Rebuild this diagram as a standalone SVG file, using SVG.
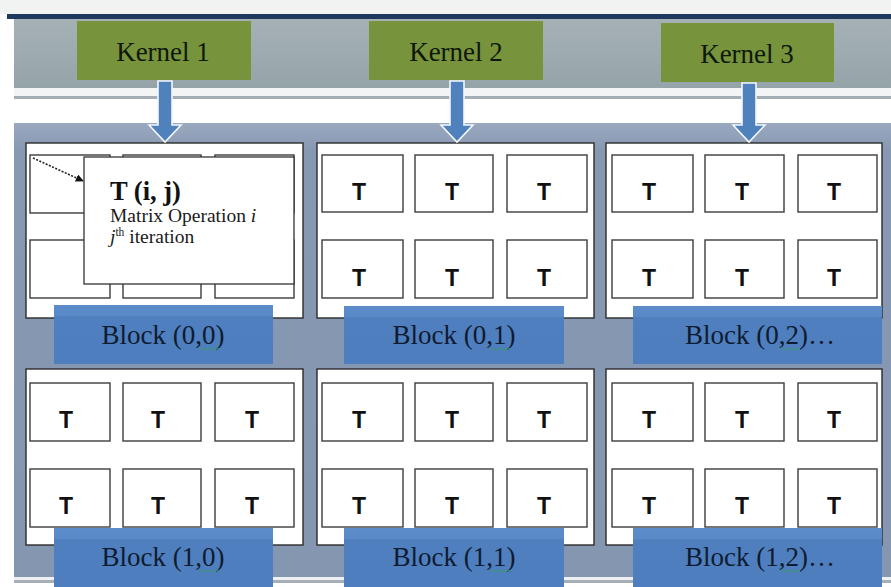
<svg xmlns="http://www.w3.org/2000/svg" width="891" height="587" viewBox="0 0 891 587">
<defs>
<linearGradient id="hdr" x1="0" y1="0" x2="0" y2="1">
<stop offset="0" stop-color="#a6b1b5"/><stop offset="1" stop-color="#95a4a9"/>
</linearGradient>
<linearGradient id="pnl" x1="0" y1="0" x2="0" y2="1">
<stop offset="0" stop-color="#9aa9bf"/><stop offset="0.06" stop-color="#8798b2"/><stop offset="1" stop-color="#8596b0"/>
</linearGradient>
<linearGradient id="lbl" x1="0" y1="0" x2="0" y2="1">
<stop offset="0" stop-color="#5d8ccb"/><stop offset="0.18" stop-color="#5a89c8"/><stop offset="0.2" stop-color="#4f7fbe"/><stop offset="1" stop-color="#4e7ebd"/>
</linearGradient>
<marker id="ah" viewBox="0 0 10 10" refX="9" refY="5" markerWidth="8" markerHeight="8" orient="auto" markerUnits="userSpaceOnUse">
<path d="M0,0 L10,5 L0,10 z" fill="#111"/>
</marker>
<style>
.blk{fill:#fff;stroke:#2b2b2b;stroke-width:1.4}
.cell{fill:#fff;stroke:#3c3c3c;stroke-width:1.4}
.t{font-family:"Liberation Sans",Arial,sans-serif;font-weight:bold;font-size:23px;text-anchor:middle;fill:#111}
.lb{fill:url(#lbl)}
.lt{font-family:"Liberation Serif","Times New Roman",serif;font-size:27px;text-anchor:middle;fill:#0e1b30}
.kb{fill:#77933c}
.kt{font-family:"Liberation Serif","Times New Roman",serif;font-size:27px;text-anchor:middle;fill:#0f170a}
.arr{fill:#4f81bd;stroke:#f4f7fb;stroke-width:1.6;stroke-linejoin:miter}
.sq{fill:none;stroke:#3a9a6a;stroke-width:1}
.ct{font-family:"Liberation Serif","Times New Roman",serif;font-size:19.5px;fill:#1a1a1a}
</style>
</defs>
<rect x="0" y="0" width="891" height="587" fill="#ffffff"/>
<rect x="0" y="0" width="891" height="14" fill="#f1f2f2"/>
<!-- header band -->
<rect x="14" y="18" width="877" height="70" fill="url(#hdr)"/>
<rect x="7" y="14" width="884" height="5" fill="#1d3a5e"/>
<rect x="14" y="88" width="877" height="8" fill="#f3f4f5"/>
<rect x="14" y="96" width="877" height="3" fill="#a4acb4"/>
<!-- main panel -->
<rect x="14" y="123" width="877" height="454" fill="url(#pnl)"/>
<rect x="14" y="577" width="877" height="3" fill="#eef0f3"/>
<rect x="14" y="580" width="877" height="3" fill="#a6aeb8"/>

<g id="kernel1"><rect class="kb" x="77" y="21" width="174" height="59"/><text class="kt" x="163" y="61">Kernel 1</text></g>
<g id="kernel2"><rect class="kb" x="369" y="21" width="174" height="59"/><text class="kt" x="456" y="61">Kernel 2</text></g>
<g id="kernel3"><rect class="kb" x="661" y="23" width="173" height="59"/><text class="kt" x="747" y="63">Kernel 3</text></g>

<g id="block00">
<rect class="blk" x="26" y="143" width="277" height="175"/>
<rect class="cell" x="30" y="155" width="80" height="58"/>
<rect class="cell" x="123" y="155" width="78" height="58"/>
<rect class="cell" x="215" y="155" width="79" height="58"/>
<rect class="cell" x="30" y="240" width="80" height="58"/>
<rect class="cell" x="123" y="240" width="78" height="58"/>
<rect class="cell" x="215" y="240" width="79" height="58"/>
<rect x="84" y="157" width="210" height="127" fill="#fff" stroke="#333" stroke-width="1.3"/>
<text x="110" y="200" font-family="'Liberation Serif','Times New Roman',serif" font-weight="bold" font-size="26.5" fill="#111">T (i, j)</text>
<text class="ct" x="110" y="222">Matrix Operation <tspan font-style="italic">i</tspan></text>
<text class="ct" x="110" y="243"><tspan font-style="italic">j</tspan><tspan font-size="11.5" dy="-7">th</tspan><tspan dy="7"> iteration</tspan></text>
</g>
<g id="block01">
<rect class="blk" x="317" y="143" width="277" height="175"/>
<rect class="cell" x="322" y="155" width="81" height="57"/>
<rect class="cell" x="415" y="155" width="78" height="57"/>
<rect class="cell" x="507" y="155" width="80" height="57"/>
<rect class="cell" x="322" y="240" width="81" height="58"/>
<rect class="cell" x="415" y="240" width="78" height="58"/>
<rect class="cell" x="507" y="240" width="80" height="58"/>
<text class="t" x="359" y="200">T</text><text class="t" x="452" y="200">T</text><text class="t" x="544" y="200">T</text>
<text class="t" x="359" y="286">T</text><text class="t" x="452" y="286">T</text><text class="t" x="544" y="286">T</text>
</g>
<g id="block02">
<rect class="blk" x="606" y="143" width="276" height="175"/>
<rect class="cell" x="612" y="155" width="81" height="57"/>
<rect class="cell" x="705" y="155" width="79" height="57"/>
<rect class="cell" x="798" y="155" width="79" height="57"/>
<rect class="cell" x="612" y="240" width="81" height="58"/>
<rect class="cell" x="705" y="240" width="79" height="58"/>
<rect class="cell" x="798" y="240" width="79" height="58"/>
<text class="t" x="649" y="200">T</text><text class="t" x="742" y="200">T</text><text class="t" x="834" y="200">T</text>
<text class="t" x="649" y="286">T</text><text class="t" x="742" y="286">T</text><text class="t" x="834" y="286">T</text>
</g>
<g id="block10">
<rect class="blk" x="26" y="369" width="277" height="176"/>
<rect class="cell" x="30" y="383" width="80" height="58"/>
<rect class="cell" x="123" y="383" width="78" height="58"/>
<rect class="cell" x="215" y="383" width="79" height="58"/>
<rect class="cell" x="30" y="469" width="80" height="58"/>
<rect class="cell" x="123" y="469" width="78" height="58"/>
<rect class="cell" x="215" y="469" width="79" height="58"/>
<text class="t" x="66" y="428">T</text><text class="t" x="158" y="428">T</text><text class="t" x="252" y="428">T</text>
<text class="t" x="66" y="514">T</text><text class="t" x="158" y="514">T</text><text class="t" x="252" y="514">T</text>
</g>
<g id="block11">
<rect class="blk" x="317" y="369" width="277" height="176"/>
<rect class="cell" x="322" y="383" width="81" height="58"/>
<rect class="cell" x="415" y="383" width="78" height="58"/>
<rect class="cell" x="507" y="383" width="80" height="58"/>
<rect class="cell" x="322" y="469" width="81" height="58"/>
<rect class="cell" x="415" y="469" width="78" height="58"/>
<rect class="cell" x="507" y="469" width="80" height="58"/>
<text class="t" x="359" y="428">T</text><text class="t" x="452" y="428">T</text><text class="t" x="544" y="428">T</text>
<text class="t" x="359" y="514">T</text><text class="t" x="452" y="514">T</text><text class="t" x="544" y="514">T</text>
</g>
<g id="block12">
<rect class="blk" x="606" y="369" width="276" height="176"/>
<rect class="cell" x="612" y="383" width="81" height="58"/>
<rect class="cell" x="705" y="383" width="79" height="58"/>
<rect class="cell" x="798" y="383" width="79" height="58"/>
<rect class="cell" x="612" y="469" width="81" height="58"/>
<rect class="cell" x="705" y="469" width="79" height="58"/>
<rect class="cell" x="798" y="469" width="79" height="58"/>
<text class="t" x="649" y="428">T</text><text class="t" x="742" y="428">T</text><text class="t" x="834" y="428">T</text>
<text class="t" x="649" y="514">T</text><text class="t" x="742" y="514">T</text><text class="t" x="834" y="514">T</text>
</g>

<g id="label00"><rect class="lb" x="54" y="305" width="219" height="59"/><text class="lt" x="163" y="344">Block (0,0)</text><path class="sq" d="M199,349 q2,-2 4,0 t4,0 t4,0 t4,0 t4,0"/></g>
<g id="label01"><rect class="lb" x="344" y="306" width="220" height="58"/><text class="lt" x="454" y="344">Block (0,1)</text><path class="sq" d="M490,349 q2,-2 4,0 t4,0 t4,0 t4,0 t4,0"/></g>
<g id="label02"><rect class="lb" x="633" y="306" width="249" height="58"/><text class="lt" x="760" y="344">Block (0,2)…</text><path class="sq" d="M780,349 q2,-2 4,0 t4,0 t4,0 t4,0 t4,0"/></g>
<g id="label10"><rect class="lb" x="54" y="528" width="219" height="59"/><text class="lt" x="163" y="566">Block (1,0)</text><path class="sq" d="M199,571 q2,-2 4,0 t4,0 t4,0 t4,0 t4,0"/></g>
<g id="label11"><rect class="lb" x="344" y="528" width="220" height="59"/><text class="lt" x="454" y="566">Block (1,1)</text><path class="sq" d="M490,571 q2,-2 4,0 t4,0 t4,0 t4,0 t4,0"/></g>
<g id="label12"><rect class="lb" x="633" y="528" width="249" height="59"/><text class="lt" x="760" y="566">Block (1,2)…</text><path class="sq" d="M780,571 q2,-2 4,0 t4,0 t4,0 t4,0 t4,0"/></g>

<g id="connectors">
<path class="arr" d="M158,81 h14 v44 h9 l-16,17 l-16,-17 h9 z"/>
<path class="arr" d="M450,81 h14 v44 h9 l-16,17 l-16,-17 h9 z"/>
<path class="arr" d="M742,83 h14 v42 h9 l-16,17 l-16,-17 h9 z"/>
<line x1="33" y1="158" x2="83" y2="181" stroke="#222" stroke-width="1.6" stroke-dasharray="2,1.5" marker-end="url(#ah)"/>
</g>
</svg>
